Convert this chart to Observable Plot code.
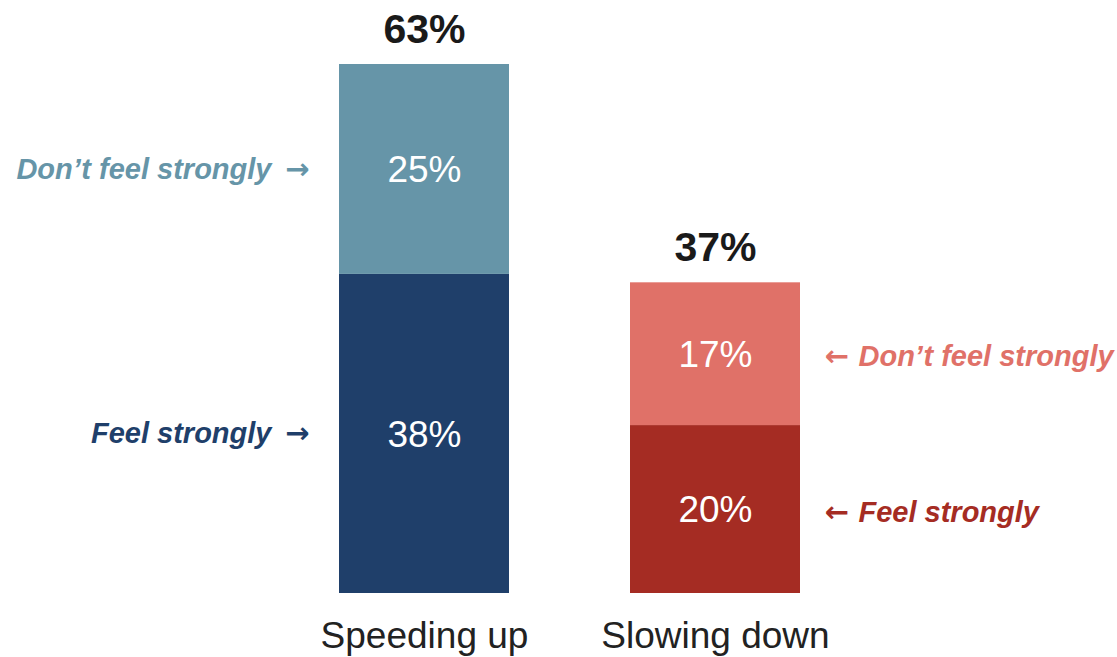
<!DOCTYPE html>
<html>
<head>
<meta charset="utf-8">
<script src="https://cdn.jsdelivr.net/npm/d3@7"></script>
<script src="https://cdn.jsdelivr.net/npm/@observablehq/plot@0.6"></script>
<style>
  html, body { margin: 0; padding: 0; background: #fff; }
  #chart svg { display: block; }
</style>
</head>
<body>
<div id="chart"></div>
<script>
// ---- data ----
const categories = ["Speeding up", "Slowing down"];
const segments = ["Feel strongly", "Don’t feel strongly"];
const speedingUpValues = [38, 25];
const slowingDownValues = [20, 17];
const totals = [63, 37];
const leftLabels = ["Feel strongly", "Don’t feel strongly"];
const rightLabels = ["Feel strongly", "Don’t feel strongly"];

// ---- styles ----
const palette = {
  "Speeding up|Feel strongly": "#1f3f6a",
  "Speeding up|Don’t feel strongly": "#6695a8",
  "Slowing down|Feel strongly": "#a52c23",
  "Slowing down|Don’t feel strongly": "#e07168"
};
const font = "'Liberation Sans', Arimo, Arial, Helvetica, sans-serif";
const arrowFont = "'DejaVu Sans', sans-serif";

const seriesValues = [speedingUpValues, slowingDownValues];
const data = categories.flatMap((c, i) =>
  segments.map((s, j) => ({
    category: c,
    segment: s,
    value: seriesValues[i][j],
    key: c + "|" + s,
    side: i === 0 ? leftLabels[j] : rightLabels[j]
  }))
);
const totalData = categories.map((c, i) => ({category: c, total: totals[i]}));
const left = data.filter(d => d.category === categories[0]);
const right = data.filter(d => d.category === categories[1]);

const sideStyle = {fontSize: 29, fontWeight: "bold", fontStyle: "italic", fontFamily: font};

const chart = Plot.plot({
  width: 1117,
  height: 657,
  margin: 0,
  style: {background: "#fff", fontFamily: font},
  x: {domain: categories, range: [339, 800], paddingInner: 0.416, paddingOuter: 0, axis: null},
  y: {domain: [0, 63], range: [593, 64], axis: null},
  color: {domain: Object.keys(palette), range: Object.values(palette)},
  marks: [
    Plot.barY(data, {x: "category", y: "value", fill: "key", order: null}),
    Plot.text(data, Plot.stackY({
      x: "category", y: "value", order: null,
      text: d => d.value + "%", dy: 1,
      fill: "white", fontSize: 37, fontFamily: font
    })),
    Plot.text(totalData, {
      x: "category", y: "total", text: d => d.total + "%",
      dy: -35, fontSize: 41, fontWeight: "bold", fill: "#1a1a1a", fontFamily: font
    }),
    Plot.text(categories, {
      x: d => d, y: () => 0, text: d => d,
      dy: 43, fontSize: 37, fill: "#222", fontFamily: font
    }),
    // left side labels + arrows
    Plot.text(left, Plot.stackY({
      x: "category", y: "value", order: null,
      text: "side", fill: "key", textAnchor: "end", dx: -153, dy: 0, ...sideStyle
    })),
    Plot.text(left, Plot.stackY({
      x: "category", y: "value", order: null,
      text: () => "→", fill: "key", textAnchor: "end", dx: -115, dy: 0,
      fontSize: 29, fontWeight: "bold", fontFamily: arrowFont
    })),
    // right side labels + arrows
    Plot.text(right, Plot.stackY({
      x: "category", y: "value", order: null,
      text: () => "←", fill: "key", textAnchor: "start", dx: 109, dy: 3,
      fontSize: 29, fontWeight: "bold", fontFamily: arrowFont
    })),
    Plot.text(right, Plot.stackY({
      x: "category", y: "value", order: null,
      text: "side", fill: "key", textAnchor: "start", dx: 143, dy: 3, ...sideStyle
    }))
  ]
});
document.getElementById("chart").appendChild(chart);
</script>
</body>
</html>
